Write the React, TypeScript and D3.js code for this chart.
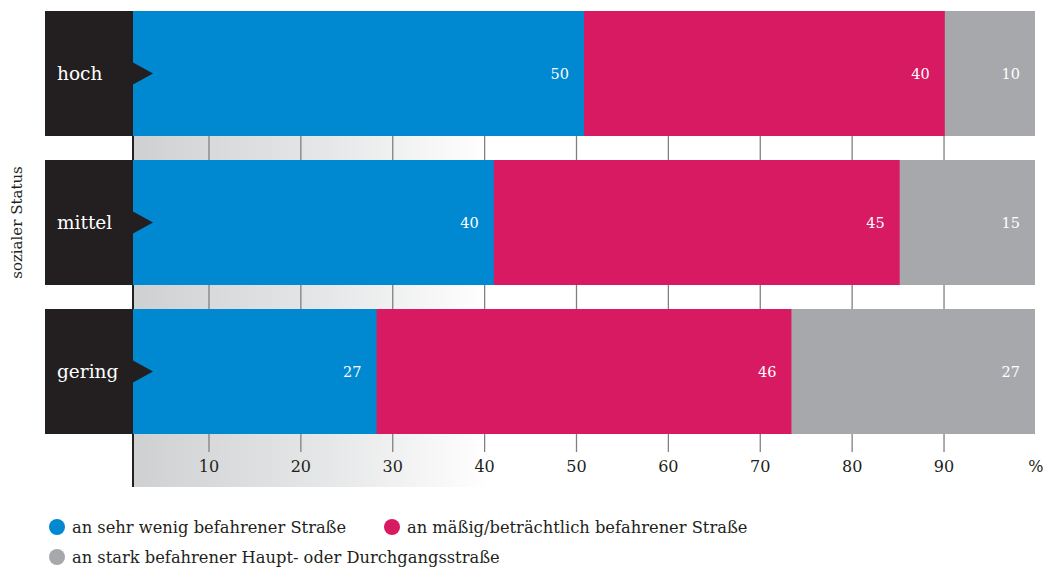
import React from "react";
import * as d3 from "d3";

const categories = ["hoch", "mittel", "gering"];
const seriesKeys = ["wenig", "maessig", "stark"];
const seriesLabels = [
  "an sehr wenig befahrener Straße",
  "an mäßig/beträchtlich befahrener Straße",
  "an stark befahrener Haupt- oder Durchgangsstraße",
];
const seriesColors = ["#0088d0", "#d81a62", "#a7a8ab"];
const wenigValues = [50, 40, 27];
const maessigValues = [40, 45, 46];
const starkValues = [10, 15, 27];
const tickValues = [10, 20, 30, 40, 50, 60, 70, 80, 90];
const yTitle = "sozialer Status";

const W = 1043;
const H = 567;
const FONT = "'DejaVu Serif', serif";

export default function App() {
  const rows = categories.map((c, i) => ({
    cat: c,
    wenig: wenigValues[i],
    maessig: maessigValues[i],
    stark: starkValues[i],
  }));
  const stacked = d3.stack<any>().keys(seriesKeys)(rows);

  const x = d3.scaleLinear().domain([0, 100]).range([133, 1035]);
  const xt = d3.scaleLinear().domain([0, 100]).range([117.1, 1035.9]);
  const y = d3
    .scaleBand()
    .domain(categories)
    .range([11, 434])
    .paddingInner(24 / 149)
    .paddingOuter(0);
  const bw = y.bandwidth();
  const step = y.step();
  const gaps = categories.map((c) => y(c)! + bw);

  return (
    <svg
      width={W}
      height={H}
      style={{ position: "absolute", left: 0, top: 0, display: "block" }}
      fontFamily={FONT}
    >
      <defs>
        <linearGradient id="fade" x1="0" x2="1" y1="0" y2="0">
          <stop offset="0" stopColor="#cfd0d2" />
          <stop offset="0.55" stopColor="#e6e7e8" />
          <stop offset="1" stopColor="#ffffff" />
        </linearGradient>
      </defs>

      {/* gradient bands in gaps */}
      {gaps.map((g, i) => (
        <rect
          key={"gb" + i}
          x={x(0)}
          y={g}
          width={490 - x(0)}
          height={i === gaps.length - 1 ? 487 - g : step - bw}
          fill="url(#fade)"
        />
      ))}

      {/* tick lines in gaps */}
      {gaps.map((g, i) =>
        tickValues.map((t) => (
          <line
            key={"tl" + i + "-" + t}
            x1={xt(t)}
            x2={xt(t)}
            y1={g}
            y2={i === gaps.length - 1 ? g + 18 : g + step - bw}
            stroke="#808080"
            strokeWidth={1.3}
          />
        ))
      )}

      {/* left axis line */}
      <line x1={x(0)} x2={x(0)} y1={11} y2={487} stroke="#231f20" strokeWidth={2} />

      {/* bars */}
      {stacked.map((s, si) =>
        s.map((d, di) => (
          <rect
            key={"b" + si + "-" + di}
            x={x(d[0])}
            y={y(categories[di])!}
            width={x(d[1]) - x(d[0]) + (si < 2 ? 0.5 : 0)}
            height={bw}
            fill={seriesColors[si]}
          />
        ))
      )}

      {/* value labels */}
      {stacked.map((s, si) =>
        s.map((d, di) => (
          <text
            key={"v" + si + "-" + di}
            x={x(d[1]) - 15}
            y={y(categories[di])! + bw / 2 + 5}
            textAnchor="end"
            fill="#ffffff"
            fontSize={14.5}
          >
            {d[1] - d[0]}
          </text>
        ))
      )}

      {/* category boxes */}
      {categories.map((c) => {
        const top = y(c)!;
        const mid = top + bw / 2;
        return (
          <g key={"cb" + c}>
            <rect x={45} y={top} width={x(0) - 45} height={bw} fill="#231f20" />
            <path
              d={`M${x(0)},${mid - 11} L${x(0) + 20},${mid} L${x(0)},${mid + 11} Z`}
              fill="#231f20"
            />
            <text x={57} y={mid + 6} fill="#ffffff" fontSize={18.5}>
              {c}
            </text>
          </g>
        );
      })}

      {/* axis tick labels */}
      {tickValues.map((t) => (
        <text
          key={"tk" + t}
          x={xt(t)}
          y={472}
          textAnchor="middle"
          fill="#231f20"
          fontSize={16}
        >
          {t}
        </text>
      ))}
      <text x={xt(100)} y={472} textAnchor="middle" fill="#231f20" fontSize={16}>
        %
      </text>

      {/* y title */}
      <text
        transform={`translate(22,${y("mittel")! + bw / 2}) rotate(-90)`}
        textAnchor="middle"
        fill="#231f20"
        fontSize={15}
      >
        {yTitle}
      </text>

      {/* legend */}
      {seriesLabels.map((l, i) => {
        const lx = i === 1 ? 392 : 57;
        const ly = i === 2 ? 557 : 527;
        return (
          <g key={"lg" + i}>
            <circle cx={lx} cy={ly} r={8} fill={seriesColors[i]} />
            <text x={lx + 15} y={ly + 6} fill="#231f20" fontSize={16.3}>
              {l}
            </text>
          </g>
        );
      })}
    </svg>
  );
}
